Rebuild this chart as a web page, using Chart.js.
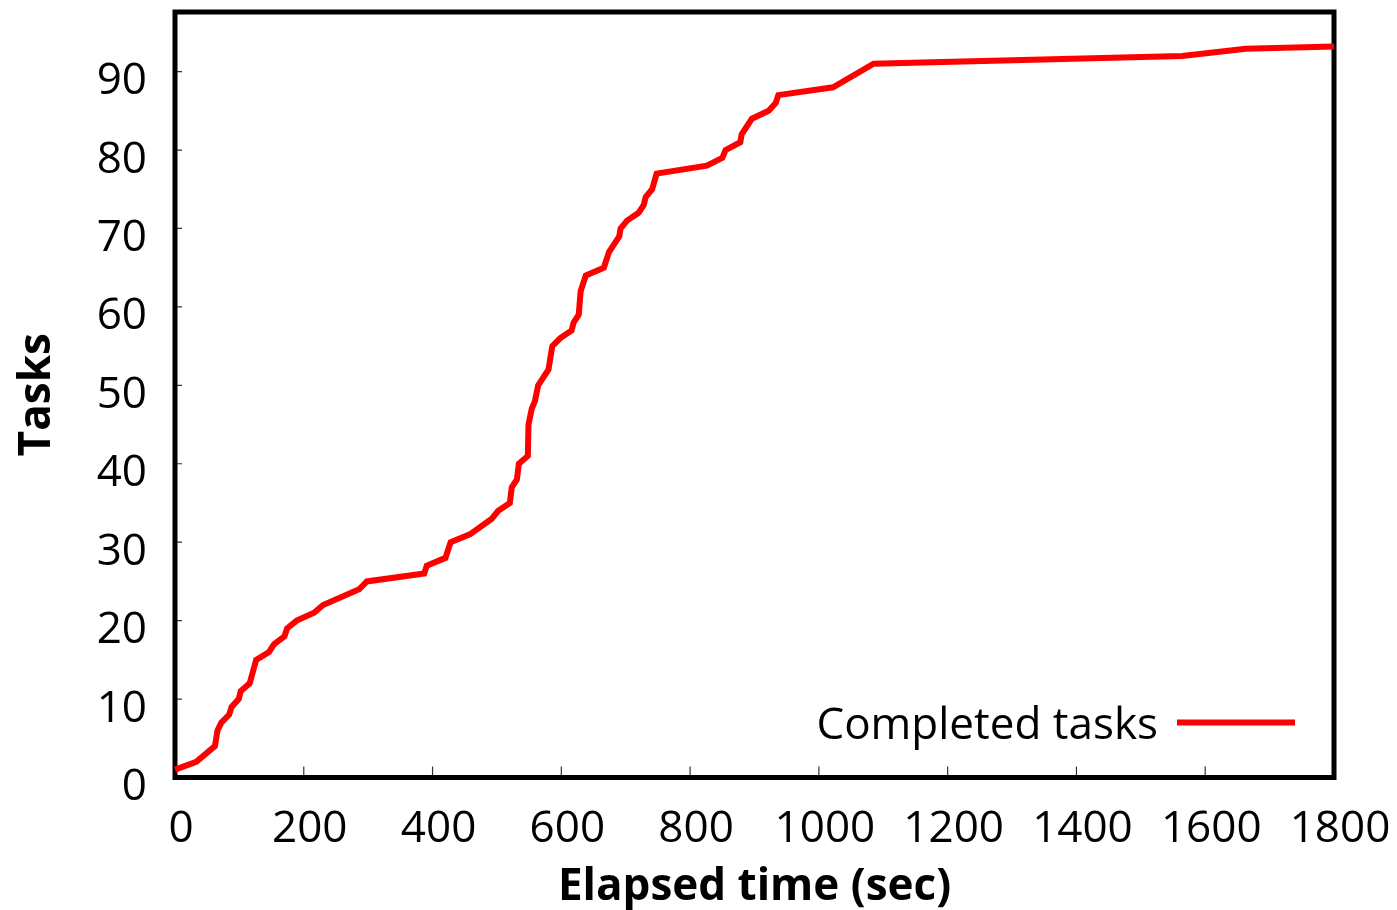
<!DOCTYPE html>
<html>
<head>
<meta charset="utf-8">
<script src="https://cdn.jsdelivr.net/npm/chart.js@4/dist/chart.umd.min.js"></script>
<style>
  html, body { margin: 0; padding: 0; background: #fff; }
  #wrap { width: 1397px; height: 910px; }
</style>
</head>
<body>
<div id="wrap"><canvas id="c" width="1397" height="910"></canvas></div>
<script>
// Elapsed time (sec) at which each task count was reached
const elapsedSec = [0, 33, 62, 66, 72, 84, 88, 99, 102, 116, 126, 146, 154, 170, 174, 189, 216, 230, 286, 298,
  387, 391, 420, 428, 458, 492, 502, 520, 523, 531, 534, 548, 549, 554, 559, 564, 580, 586, 598, 616, 619, 627,
  630, 638, 666, 674, 690, 692, 702, 720, 728, 731, 741, 748, 826, 850, 855, 878, 880, 888, 896, 922, 933, 937,
  1022, 1085, 1564, 1663, 1800];
const completedTasks = [1, 2, 4, 6, 7, 8, 9, 10, 11, 12, 15, 16, 17, 18, 19, 20, 21, 22, 24, 25,
  26, 27, 28, 30, 31, 33, 34, 35, 37, 38, 40, 41, 45, 47, 48, 50, 52, 55, 56, 57, 58, 59,
  62, 64, 65, 67, 69, 70, 71, 72, 73, 74, 75, 77, 78, 79, 80, 81, 82, 83, 84, 85, 86, 87,
  88, 91, 92, 92.9, 93.2];
const xTicks = [0, 200, 400, 600, 800, 1000, 1200, 1400, 1600, 1800];
const yTicks = [0, 10, 20, 30, 40, 50, 60, 70, 80, 90];
const seriesLabel = 'Completed tasks';
const xTitle = 'Elapsed time (sec)';
const yTitle = 'Tasks';

const FONT = '"Open Sans", "DejaVu Sans", sans-serif';

// Frame around the plot area plus inward tick marks
const framePlugin = {
  id: 'frame',
  beforeDatasetsDraw(chart) {
    const { ctx, chartArea: a, scales } = chart;
    ctx.save();
    ctx.strokeStyle = '#333';
    ctx.lineWidth = 1.2;
    ctx.beginPath();
    scales.x.ticks.forEach(t => {
      const px = scales.x.getPixelForValue(t.value);
      ctx.moveTo(px, a.bottom);
      ctx.lineTo(px, a.bottom - 11);
    });
    scales.y.ticks.forEach(t => {
      const py = scales.y.getPixelForValue(t.value);
      ctx.moveTo(a.left, py);
      ctx.lineTo(a.left + 7, py);
    });
    ctx.stroke();
    ctx.strokeStyle = '#000';
    ctx.lineWidth = 5;
    ctx.strokeRect(a.left, a.top, a.right - a.left, a.bottom - a.top);
    ctx.restore();
  }
};

// Key in the lower right corner of the plot
const keyPlugin = {
  id: 'key',
  afterDatasetsDraw(chart) {
    const { ctx, chartArea: a } = chart;
    const ds = chart.data.datasets[0];
    const x1 = a.right - 157, x2 = a.right - 39, y = a.bottom - 55;
    ctx.save();
    ctx.strokeStyle = ds.borderColor;
    ctx.lineWidth = 6;
    ctx.beginPath();
    ctx.moveTo(x1, y);
    ctx.lineTo(x2, y);
    ctx.stroke();
    ctx.fillStyle = '#000';
    ctx.font = '44px ' + FONT;
    ctx.textAlign = 'right';
    ctx.textBaseline = 'alphabetic';
    ctx.fillText(ds.label, x1 - 19, y + 16);
    ctx.restore();
  }
};

const plainNumber = v => String(v);

new Chart(document.getElementById('c'), {
  type: 'line',
  data: {
    datasets: [{
      label: seriesLabel,
      data: elapsedSec.map((t, i) => ({ x: t, y: completedTasks[i] })),
      borderColor: '#ff0000',
      borderWidth: 6,
      pointRadius: 0,
      tension: 0,
      fill: false,
      clip: 4
    }]
  },
  options: {
    responsive: false,
    animation: false,
    events: [],
    layout: { padding: { top: 12, right: 63, bottom: 0, left: 0 } },
    plugins: { legend: { display: false }, tooltip: { enabled: false } },
    scales: {
      x: {
        type: 'linear',
        min: 0,
        max: 1800,
        afterBuildTicks: s => { s.ticks = xTicks.map(v => ({ value: v })); },
        afterFit: s => { s.height = 132.5; s.paddingLeft = 0; s.paddingRight = 0; },
        grid: { display: false, drawTicks: false },
        border: { display: false },
        ticks: {
          color: '#000',
          font: { family: FONT, size: 44 },
          padding: 26,
          labelOffset: 6,
          maxRotation: 0,
          autoSkip: false,
          callback: plainNumber
        },
        title: {
          display: true,
          text: xTitle,
          color: '#000',
          font: { family: FONT, size: 44, weight: 'bold', lineHeight: 1 },
          padding: { top: 0, bottom: 1 }
        }
      },
      y: {
        type: 'linear',
        min: 0,
        max: 97.6,
        afterBuildTicks: s => { s.ticks = yTicks.map(v => ({ value: v })); },
        afterFit: s => { s.width = 175; s.paddingTop = 0; s.paddingBottom = 0; },
        grid: { display: false, drawTicks: false },
        border: { display: false },
        ticks: {
          color: '#000',
          font: { family: FONT, size: 44 },
          padding: 28,
          labelOffset: 10,
          autoSkip: false,
          callback: plainNumber
        },
        title: {
          display: true,
          text: yTitle,
          color: '#000',
          font: { family: FONT, size: 44, weight: 'bold', lineHeight: 1 },
          padding: { top: 15, bottom: 0 }
        }
      }
    }
  },
  plugins: [framePlugin, keyPlugin]
});
</script>
</body>
</html>
